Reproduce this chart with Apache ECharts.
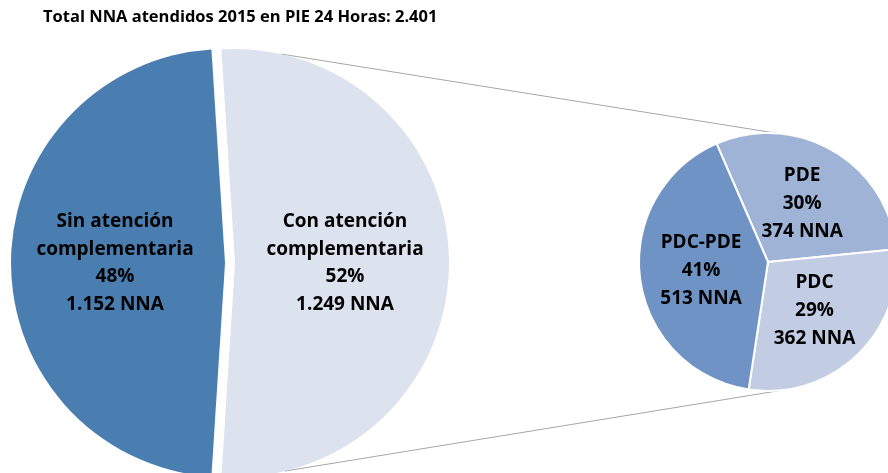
<!DOCTYPE html>
<html>
<head>
<meta charset="utf-8">
<title>NNA atendidos 2015</title>
<script src="https://cdn.jsdelivr.net/npm/echarts@6.0.0/dist/echarts.min.js"></script>
<style>
  html, body { margin: 0; padding: 0; background: #fff; }
  #chart { width: 888px; height: 473px; }
</style>
</head>
<body>
<div id="chart"></div>
<script>
// datos
var titulo = 'Total NNA atendidos 2015 en PIE 24 Horas: 2.401'
var grupos = ['Con atención\ncomplementaria', 'Sin atención\ncomplementaria']
var gruposNNA = [1249, 1152]
var programas = ['PDE', 'PDC', 'PDC-PDE']
var programasNNA = [374, 362, 513]

var coloresGrupos = ['#dce2ee', '#4a7eb1']
var coloresProgramas = ['#9eb3d6', '#c2cde3', '#7093c5']

var font = 'Open Sans'

function miles(n) {
  return String(n).replace(/\B(?=(\d{3})+(?!\d))/g, '.')
}

function etiqueta(p) {
  return p.name + '\n' + Math.round(p.percent) + '%\n' + miles(p.value) + ' NNA'
}

var totalGrupos = gruposNNA.reduce(function (a, b) { return a + b }, 0)

// geometria
var grande = { cx: 230, cy: 263, r: 214, off: 5 }
var chico = { cx: 768, cy: 262, r: 129 }

function punto(c, dx, r, grados) {
  var a = grados * Math.PI / 180
  return [c.cx + dx + r * Math.cos(a), c.cy - r * Math.sin(a)]
}

var supA = punto(grande, grande.off, grande.r, 77.6)
var supB = punto(chico, 0, chico.r, 86)
var infA = punto(grande, grande.off, grande.r, -76.5)
var infB = punto(chico, 0, chico.r, -84)

var chart = echarts.init(document.getElementById('chart'))

chart.setOption({
  animation: false,
  title: {
    text: titulo,
    left: 38,
    top: 4,
    textStyle: { fontFamily: font, fontWeight: 'bold', fontSize: 16.5, color: '#000' }
  },
  graphic: [
    {
      type: 'line', z: 0,
      shape: { x1: supA[0], y1: supA[1], x2: supB[0], y2: supB[1] },
      style: { stroke: '#a6a6a6', lineWidth: 1 }
    },
    {
      type: 'line', z: 0,
      shape: { x1: infA[0], y1: infA[1], x2: infB[0], y2: infB[1] },
      style: { stroke: '#a6a6a6', lineWidth: 1 }
    }
  ],
  series: [
    {
      type: 'pie',
      center: [grande.cx, grande.cy],
      radius: grande.r,
      startAngle: 180 * gruposNNA[0] / totalGrupos,
      clockwise: true,
      selectedMode: 'multiple',
      selectedOffset: grande.off,
      silent: true,
      emphasis: { disabled: true },
      select: { itemStyle: { borderWidth: 0 } },
      label: {
        position: 'inner',
        formatter: etiqueta,
        fontFamily: font,
        fontWeight: 'bold',
        fontSize: 19,
        lineHeight: 27.5,
        color: '#000'
      },
      labelLine: { show: false },
      data: grupos.map(function (n, i) {
        return { name: n, value: gruposNNA[i], selected: true, itemStyle: { color: coloresGrupos[i] } }
      })
    },
    {
      type: 'pie',
      center: [chico.cx, chico.cy],
      radius: chico.r,
      startAngle: 113.5,
      clockwise: true,
      silent: true,
      emphasis: { disabled: true },
      itemStyle: { borderColor: '#fff', borderWidth: 2 },
      label: {
        position: 'inner',
        formatter: etiqueta,
        fontFamily: font,
        fontWeight: 'bold',
        fontSize: 19,
        lineHeight: 28,
        color: '#000'
      },
      labelLine: { show: false },
      data: programas.map(function (n, i) {
        return { name: n, value: programasNNA[i], itemStyle: { color: coloresProgramas[i] } }
      })
    }
  ]
})
</script>
</body>
</html>
